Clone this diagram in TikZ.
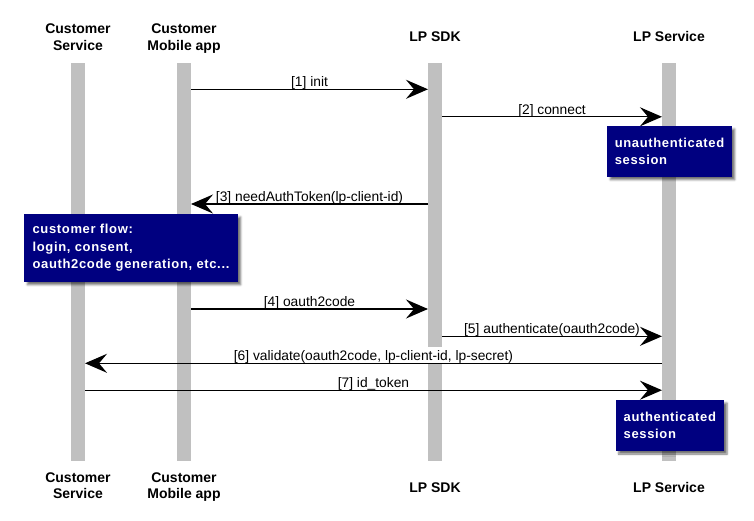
\documentclass[tikz,border=0pt]{standalone}
\usepackage{fontspec}
\setmainfont{Liberation Sans}
\newfontfamily\boxfont[LetterSpace=5]{Liberation Sans}
\usetikzlibrary{arrows.meta,shadows.blur}
\definecolor{bargray}{RGB}{192,192,192}
\definecolor{boxnavy}{RGB}{0,0,128}
\begin{document}
\begin{tikzpicture}[x=1pt,y=-1pt,
  lifebar/.style={fill=bargray, draw=none, minimum width=14pt, minimum height=397.5pt, inner sep=0pt},
  head/.style={font=\fontsize{14}{16.5}\selectfont\bfseries, align=center, inner sep=0pt},
  msg/.style={line width=1.4pt, -{Stealth[length=22pt,width=19pt,inset=8pt]}},
  msglabel/.style={font=\fontsize{13.8}{16}\selectfont, fill=white, anchor=base, text height=12pt, text depth=1.5pt, inner xsep=1pt, inner ysep=2pt},
  note/.style={fill=boxnavy, draw=none, text=white, font=\boxfont\fontsize{13}{17.5}\selectfont\bfseries, align=left, inner xsep=7.4pt, inner ysep=0pt,
    blur shadow={shadow xshift=3pt, shadow yshift=-3pt, shadow opacity=55, shadow blur radius=2pt}}
]
\useasboundingbox (0,0) rectangle (754,521);

% lifelines
\node[lifebar] (csbar)  at (78,262.25)  {};
\node[lifebar] (mobbar) at (184,262.25) {};
\node[lifebar] (sdkbar) at (435,262.25) {};
\node[lifebar] (svcbar) at (669,262.25) {};

% headers
\node[head, anchor=north] (csh)  at (78,24)    {Customer\\Service};
\node[head, anchor=north] (mobh) at (184,24)   {Customer\\Mobile app};
\node[head, anchor=base]  (sdkh) at (435,41.7) {LP SDK};
\node[head, anchor=base]  (svch) at (669,41.7) {LP Service};
% footers
\node[head, anchor=north] (csf)  at (78,472.5)  {Customer\\Service};
\node[head, anchor=north] (mobf) at (184,472.5) {Customer\\Mobile app};
\node[head, anchor=base]  (sdkf) at (435,492.3) {LP SDK};
\node[head, anchor=base]  (svcf) at (669,492.3) {LP Service};

% message end points
\coordinate (p1a) at (191,89.3);   \coordinate (p1b) at (428,89.3);
\coordinate (p2a) at (442,116.8);  \coordinate (p2b) at (662,116.8);
\coordinate (p3a) at (428,204);    \coordinate (p3b) at (191,204);
\coordinate (p4a) at (191,309);    \coordinate (p4b) at (428,309);
\coordinate (p5a) at (442,336.3);  \coordinate (p5b) at (662,336.3);
\coordinate (p6a) at (662,363.3);  \coordinate (p6b) at (85,363.3);
\coordinate (p7a) at (85,390.2);   \coordinate (p7b) at (662,390.2);

% message labels
\node[msglabel] (l1) at (309.5,86.7)  {[1] init};
\node[msglabel] (l2) at (552,114.2)   {[2] connect};
\node[msglabel] (l3) at (309.5,201.4) {[3] needAuthToken(lp-client-id)};
\node[msglabel] (l4) at (309.5,306.4) {[4] oauth2code};
\node[msglabel] (l5) at (552,333.7)   {[5] authenticate(oauth2code)};
\node[msglabel] (l6) at (373.5,360.7) {[6] validate(oauth2code, lp-client-id, lp-secret)};
\node[msglabel] (l7) at (373.5,387.6) {[7] id\_token};

% messages
\draw[msg] (p1a) -- (p1b);
\draw[msg] (p2a) -- (p2b);
\draw[msg] (p3a) -- (p3b);
\draw[msg] (p4a) -- (p4b);
\draw[msg] (p5a) -- (p5b);
\draw[msg] (p6a) -- (p6b);
\draw[msg] (p7a) -- (p7b);

% notes
\node[note, minimum width=124.4pt, minimum height=50.7pt] (unauth) at (669.5,151.4) {unauthenticated\\session};
\node[note, minimum width=213.4pt, minimum height=67.7pt] (flow) at (131,247.9) {customer flow:\\login, consent,\\oauth2code generation, etc...};
\node[note, minimum width=108.3pt, minimum height=51pt] (auth) at (669.85,425.5) {authenticated\\session};
\end{tikzpicture}
\end{document}
